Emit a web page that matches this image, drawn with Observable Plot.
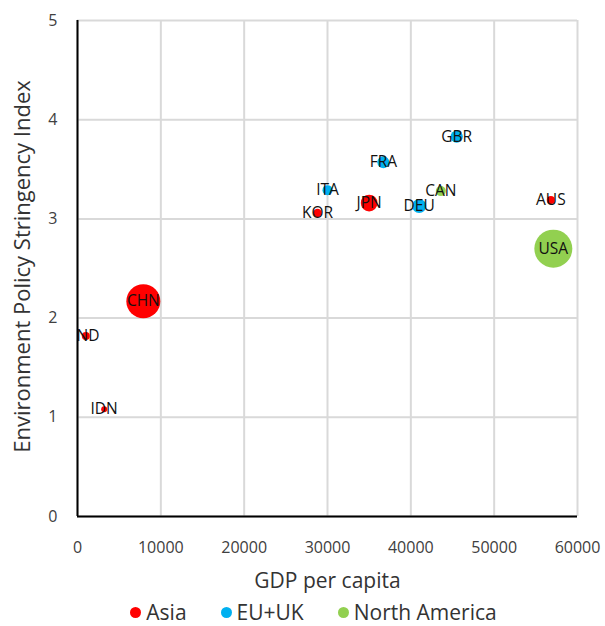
<!DOCTYPE html>
<html><head><meta charset="utf-8">
<script src="https://cdn.jsdelivr.net/npm/d3@7"></script>
<script src="https://cdn.jsdelivr.net/npm/@observablehq/plot@0.6"></script>
<style>
body{margin:0;background:#fff;font-family:"Open Sans",sans-serif;}
#legend{display:flex;justify-content:center;gap:34px;margin-left:22px;margin-top:1px;font-size:21px;color:#333;line-height:26px;}
#legend span{display:flex;align-items:center;}
#legend i{display:inline-block;width:11px;height:11px;border-radius:50%;margin-right:5px;}
</style>
</head><body><div id="chart"></div><div id="legend"></div><script>
const countries = ["CHN","IND","IDN","KOR","ITA","JPN","FRA","DEU","GBR","CAN","AUS","USA"];
const gdpPerCapita = [7900, 1000, 3200, 28800, 30000, 35000, 36700, 41000, 45500, 43600, 56800, 57100];
const stringency = [2.17, 1.82, 1.08, 3.06, 3.29, 3.16, 3.57, 3.13, 3.83, 3.28, 3.19, 2.70];
const bubbleSize = [289, 16, 9, 18, 25, 70, 36, 49, 38, 25, 16, 361];
const region = ["Asia","Asia","Asia","Asia","EU+UK","Asia","EU+UK","EU+UK","EU+UK","North America","Asia","North America"];
const regions = ["Asia","EU+UK","North America"];
const regionColors = ["#FF0000","#00B0F0","#92D050"];
const xTicks = [0,10000,20000,30000,40000,50000,60000];
const yTicks = [0,1,2,3,4,5];

const data = countries.map((c,i)=>({country:c, x:gdpPerCapita[i], y:stringency[i], s:bubbleSize[i], region:region[i]}));
const font = "'Open Sans', sans-serif";

const chart = Plot.plot({
  width: 605, height: 598,
  marginTop: 20, marginBottom: 82, marginLeft: 77, marginRight: 28,
  style: {fontFamily: font, background: "#fff"},
  x: {domain: [0, 60000]},
  y: {domain: [0, 5]},
  r: {type: "sqrt", domain: [0, 361], range: [0, 19]},
  color: {type: "ordinal", domain: regions, range: regionColors},
  marks: [
    Plot.gridX(xTicks, {stroke: "#d9d9d9", strokeOpacity: 1, strokeWidth: 2}),
    Plot.gridY(yTicks, {stroke: "#d9d9d9", strokeOpacity: 1, strokeWidth: 2}),
    Plot.axisX(xTicks, {tickSize: 0, tickPadding: 25, fontSize: 16, fill: "#404040", label: null, tickFormat: d => String(d)}),
    Plot.axisY(yTicks, {tickSize: 0, tickPadding: 20, fontSize: 16, fill: "#404040", label: null, tickFormat: d => String(d)}),
    Plot.dot(data, {x: "x", y: "y", r: "s", fill: "region"}),
    Plot.text(data, {x: "x", y: "y", text: "country", fontSize: 15.5, fill: "#111", clip: true}),
    Plot.ruleX([0], {stroke: "#000", strokeWidth: 2}),
    Plot.ruleY([0], {stroke: "#000", strokeWidth: 2}),
    Plot.text(["GDP per capita"], {frameAnchor: "bottom", dy: 71, fontSize: 21, fill: "#333", textAnchor: "middle"}),
    Plot.text(["Environment Policy Stringency Index"], {frameAnchor: "left", textAnchor: "middle", dx: -55, dy: -2, rotate: -90, fontSize: 22, fill: "#333"})
  ]
});
document.getElementById("chart").appendChild(chart);

const lg = document.getElementById("legend");
regions.forEach((r,i)=>{
  const s = document.createElement("span");
  s.innerHTML = `<i style="background:${regionColors[i]}"></i>${r}`;
  lg.appendChild(s);
});
</script></body></html>
